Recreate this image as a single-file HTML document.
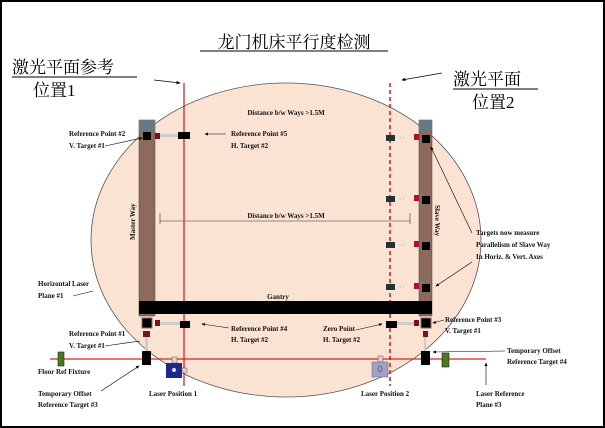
<!DOCTYPE html>
<html><head><meta charset="utf-8"><style>
html,body{margin:0;padding:0;background:#fff}
svg{display:block}
.t{font-family:"Liberation Serif",serif;font-size:7px;font-weight:bold;fill:#111}
.c{font-family:"Liberation Serif","Noto Serif CJK SC","WenQuanYi Zen Hei",serif;fill:#000}
</style></head><body>
<svg width="605" height="428" viewBox="0 0 605 428" xmlns="http://www.w3.org/2000/svg">
<defs><marker id="a" markerWidth="6" markerHeight="6" refX="5" refY="3" orient="auto"><path d="M0,0.5 L6,3 L0,5.5z" fill="#000"/></marker></defs>
<rect x="1" y="1" width="603" height="426" fill="#fff" stroke="#000" stroke-width="2"/>
<ellipse cx="286" cy="240" rx="195" ry="157" fill="#fbe3d3" stroke="#555" stroke-width="0.8"/>
<text class="c" x="294" y="48" font-size="17" text-anchor="middle">龙门机床平行度检测</text>
<line x1="200" y1="51" x2="388" y2="51" stroke="#000"/>
<text class="c" x="12" y="73" font-size="17">激光平面参考</text>
<line x1="12" y1="77" x2="137" y2="77" stroke="#000"/>
<text class="c" x="33" y="96" font-size="17">位置1</text>
<text class="c" x="453" y="85" font-size="17">激光平面</text>
<line x1="453" y1="89" x2="538" y2="89" stroke="#000"/>
<text class="c" x="472" y="108" font-size="17">位置2</text>
<line x1="154" y1="80" x2="180" y2="83" stroke="#000" stroke-width="0.7" marker-end="url(#a)"/>
<line x1="442" y1="73" x2="402" y2="80" stroke="#000" stroke-width="0.7" marker-end="url(#a)"/>
<!-- rails -->
<rect x="139" y="120" width="16" height="196" fill="#8c6a5c" stroke="#444" stroke-width="0.5"/>
<rect x="139" y="120" width="16" height="11" fill="#6a7884"/>
<rect x="419" y="120" width="13" height="196" fill="#8c6a5c" stroke="#444" stroke-width="0.5"/>
<rect x="419" y="120" width="13" height="11" fill="#6a7884"/>
<text class="t" transform="translate(135,240) rotate(-90)">Master Way</text>
<text class="t" transform="translate(435,205) rotate(90)">Slave Way</text>
<!-- dimension -->
<line x1="160" y1="221" x2="410" y2="221" stroke="#333" stroke-width="0.6"/>
<line x1="160" y1="213" x2="160" y2="224" stroke="#333" stroke-width="0.6"/>
<line x1="410" y1="213" x2="410" y2="224" stroke="#333" stroke-width="0.6"/>
<text class="t" x="286" y="218" text-anchor="middle">Distance b/w Ways &gt;1.5M</text>
<text class="t" x="286" y="115" text-anchor="middle">Distance b/w Ways &gt;1.5M</text>
<!-- floor line -->
<line x1="50" y1="359" x2="486" y2="359" stroke="#d22" stroke-width="1.2"/>
<!-- laser lines -->
<line x1="184" y1="83" x2="184" y2="386" stroke="#d11" stroke-width="1.2"/>
<line x1="390" y1="83" x2="390" y2="386" stroke="#d11" stroke-width="1.5" stroke-dasharray="4,3"/>
<!-- gantry -->
<rect x="139" y="301" width="293" height="13" fill="#000"/>
<text class="t" x="278" y="299" text-anchor="middle">Gantry</text>
<!-- top targets -->
<rect x="143" y="132" width="8" height="8" fill="#000"/>
<rect x="155" y="133" width="5" height="6" fill="#7a1020"/>
<rect x="160" y="134" width="19" height="3" fill="#ccc"/>
<rect x="178" y="132" width="12" height="7" fill="#000"/>
<g>
<rect x="386" y="135" width="9" height="6" fill="#233"/>
<text x="399" y="140" font-size="6" fill="#bbb">• •</text>
<rect x="414" y="134" width="5" height="6" fill="#b01030"/>
<rect x="422" y="135" width="8" height="8" fill="#000"/>
</g>
<g transform="translate(0,61)">
<rect x="386" y="135" width="9" height="6" fill="#233"/>
<text x="399" y="140" font-size="6" fill="#bbb">• •</text>
<rect x="414" y="134" width="5" height="6" fill="#b01030"/>
<rect x="422" y="135" width="8" height="8" fill="#000"/>
</g>
<g transform="translate(0,107)">
<rect x="386" y="135" width="9" height="6" fill="#233"/>
<text x="399" y="140" font-size="6" fill="#bbb">• •</text>
<rect x="414" y="134" width="5" height="6" fill="#b01030"/>
<rect x="422" y="135" width="8" height="8" fill="#000"/>
</g>
<g transform="translate(0,149)">
<rect x="386" y="135" width="9" height="6" fill="#233"/>
<text x="399" y="140" font-size="6" fill="#bbb">• •</text>
<rect x="414" y="134" width="5" height="6" fill="#b01030"/>
<rect x="422" y="135" width="8" height="8" fill="#000"/>
</g>
<!-- bottom targets -->
<rect x="142" y="318" width="10" height="10" fill="#000" stroke="#8c6a5c"/>
<rect x="155" y="320" width="5" height="6" fill="#7a1020"/>
<rect x="160" y="322" width="20" height="3" fill="#ccc"/>
<rect x="180" y="321" width="10" height="7" fill="#000"/>
<rect x="143" y="331" width="7" height="6" fill="#7a1020"/>
<rect x="145" y="337" width="3" height="14" fill="#ccc"/>
<rect x="142" y="351" width="9" height="14" fill="#000"/>
<rect x="386" y="321" width="11" height="7" fill="#000"/>
<rect x="397" y="322" width="17" height="3" fill="#ccc"/>
<rect x="414" y="320" width="5" height="6" fill="#7a1020"/>
<rect x="421" y="318" width="10" height="10" fill="#000" stroke="#8c6a5c"/>
<rect x="423" y="331" width="5" height="6" fill="#7a1020"/>
<rect x="424" y="337" width="2" height="14" fill="#ccc"/>
<rect x="421" y="351" width="9" height="14" fill="#000"/>
<!-- fixtures -->
<rect x="58" y="352" width="6" height="14" fill="#4a7a20" stroke="#222" stroke-width="0.6"/>
<rect x="442" y="353" width="7" height="14" fill="#4a7a20" stroke="#222" stroke-width="0.6"/>
<!-- lasers -->
<rect x="172" y="357" width="5" height="6" fill="#e8d0c0" stroke="#555" stroke-width="0.5"/>
<rect x="166" y="363" width="16" height="15" fill="#1a2a8a"/>
<circle cx="174" cy="370" r="2" fill="#ddd"/>
<rect x="182" y="368" width="5" height="5" fill="#e8d0c0" stroke="#555" stroke-width="0.5"/>
<rect x="378" y="356" width="5" height="6" fill="#e8d0c0" stroke="#555" stroke-width="0.5"/>
<rect x="372" y="362" width="16" height="15" fill="#a0a0c8" stroke="#666" stroke-width="0.5"/>
<ellipse cx="380" cy="369" rx="2" ry="3" fill="none" stroke="#444" stroke-width="0.6"/>
<!-- labels -->
<text class="t" x="69" y="136">Reference Point #2</text>
<text class="t" x="69" y="148">V. Target #1</text>
<line x1="105" y1="146" x2="142" y2="138" stroke="#000" stroke-width="0.6" marker-end="url(#a)"/>
<text class="t" x="231" y="136">Reference Point #5</text>
<text class="t" x="231" y="148">H. Target #2</text>
<line x1="226" y1="134" x2="205" y2="134" stroke="#000" stroke-width="0.6" marker-end="url(#a)"/>
<text class="t" x="476" y="235">Targets now measure</text>
<text class="t" x="476" y="247">Parallelism of Slave Way</text>
<text class="t" x="476" y="259">In Horiz. &amp; Vert. Axes</text>
<line x1="472" y1="233" x2="431" y2="147" stroke="#000" stroke-width="0.6" marker-end="url(#a)"/>
<line x1="472" y1="262" x2="436" y2="286" stroke="#000" stroke-width="0.6" marker-end="url(#a)"/>
<text class="t" x="38" y="286">Horizontal Laser</text>
<text class="t" x="38" y="298">Plane #1</text>
<line x1="73" y1="296" x2="93" y2="291" stroke="#000" stroke-width="0.6"/>
<text class="t" x="69" y="336">Reference Point #1</text>
<text class="t" x="69" y="348">V. Target #1</text>
<line x1="105" y1="346" x2="140" y2="341" stroke="#000" stroke-width="0.6"/>
<line x1="120" y1="342" x2="140" y2="342" stroke="#000" stroke-width="0.1"/>
<text class="t" x="231" y="331">Reference Point #4</text>
<text class="t" x="231" y="342">H. Target #2</text>
<line x1="229" y1="328" x2="202" y2="324" stroke="#000" stroke-width="0.6" marker-end="url(#a)"/>
<text class="t" x="323" y="331">Zero Point</text>
<text class="t" x="323" y="342">H. Target #2</text>
<line x1="356" y1="330" x2="382" y2="324" stroke="#000" stroke-width="0.6" marker-end="url(#a)"/>
<text class="t" x="445" y="322">Reference Point #3</text>
<text class="t" x="445" y="333">V. Target #1</text>
<line x1="444" y1="320" x2="433" y2="323" stroke="#000" stroke-width="0.6" marker-end="url(#a)"/>
<text class="t" x="507" y="353">Temporary Offset</text>
<text class="t" x="507" y="364">Reference Target #4</text>
<line x1="505" y1="351" x2="433" y2="352" stroke="#000" stroke-width="0.6" marker-end="url(#a)"/>
<text class="t" x="38" y="374">Floor Ref Fixture</text>
<text class="t" x="38" y="396">Temporary Offset</text>
<text class="t" x="38" y="407">Reference Target #3</text>
<line x1="101" y1="391" x2="139" y2="366" stroke="#000" stroke-width="0.6" marker-end="url(#a)"/>
<text class="t" x="149" y="396">Laser Position 1</text>
<text class="t" x="361" y="396">Laser Position 2</text>
<text class="t" x="476" y="396">Laser Reference</text>
<text class="t" x="476" y="407">Plane #3</text>
<line x1="486" y1="385" x2="486" y2="363" stroke="#000" stroke-width="0.6" marker-end="url(#a)"/>
</svg>
</body></html>
